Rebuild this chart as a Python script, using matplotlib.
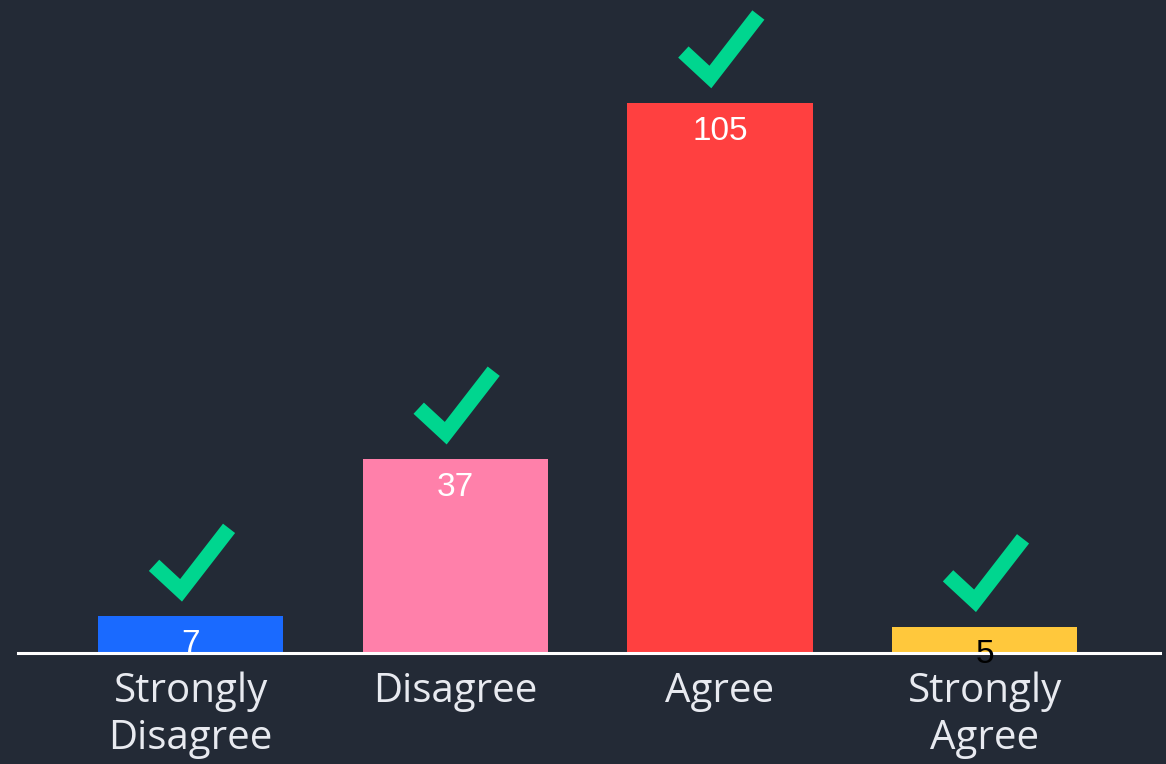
import numpy as np
import matplotlib
matplotlib.use('Agg')
import matplotlib.pyplot as plt
import matplotlib.transforms as mtransforms

# Data
categories = ['Strongly\nDisagree', 'Disagree', 'Agree', 'Strongly\nAgree']
values = [7, 37, 105, 5]
bar_colors = ['#1a6aff', '#ff80aa', '#ff4040', '#ffc83c']
label_colors = ['white', 'white', 'white', 'black']

bg = '#232a36'
check_color = '#00d68f'

fig = plt.figure(figsize=(11.66, 7.64), dpi=100, facecolor=bg)
# axes spans from baseline (y=653px) up to the top of the figure
ax = fig.add_axes([18 / 1166, (764 - 653) / 764, (1160 - 18) / 1166, 653 / 764])
ax.set_facecolor(bg)

x = np.arange(len(values))
ax.bar(x, values, width=0.7, color=bar_colors, zorder=2)

ax.set_xlim(-0.652, 3.663)
ax.set_ylim(0, 653 / 5.238)

for s in ['top', 'right', 'left']:
    ax.spines[s].set_visible(False)
ax.spines['bottom'].set_color('white')
ax.spines['bottom'].set_linewidth(2.2)
ax.spines['bottom'].set_zorder(3)
ax.set_yticks([])
ax.set_xticks(x)
ax.set_xticklabels(categories, fontsize=29, color='#e8eaf0', family='Open Sans',
                   linespacing=1.2)
ax.tick_params(axis='x', length=0, pad=13.5)

# value labels just inside the top of each bar
for xi, v, c in zip(x, values, label_colors):
    ax.annotate(str(v), (xi, v), xytext=(0, -9), textcoords='offset points',
                ha='center', va='top', fontsize=24, color=c,
                family='Liberation Sans', zorder=4)

# check marks above each bar (shape given in inches relative to bar top)
check_x = np.array([-36.5, -9.5, 38.5]) / 100
check_y = np.array([51, 26, 88]) / 100
for xi, v in zip(x, values):
    tr = fig.dpi_scale_trans + mtransforms.ScaledTranslation(xi, v, ax.transData)
    ax.plot(check_x, check_y, transform=tr, color=check_color, lw=11,
            solid_joinstyle='miter', solid_capstyle='butt', clip_on=False,
            zorder=5)

fig.savefig('out.png', dpi=100, facecolor=bg)
